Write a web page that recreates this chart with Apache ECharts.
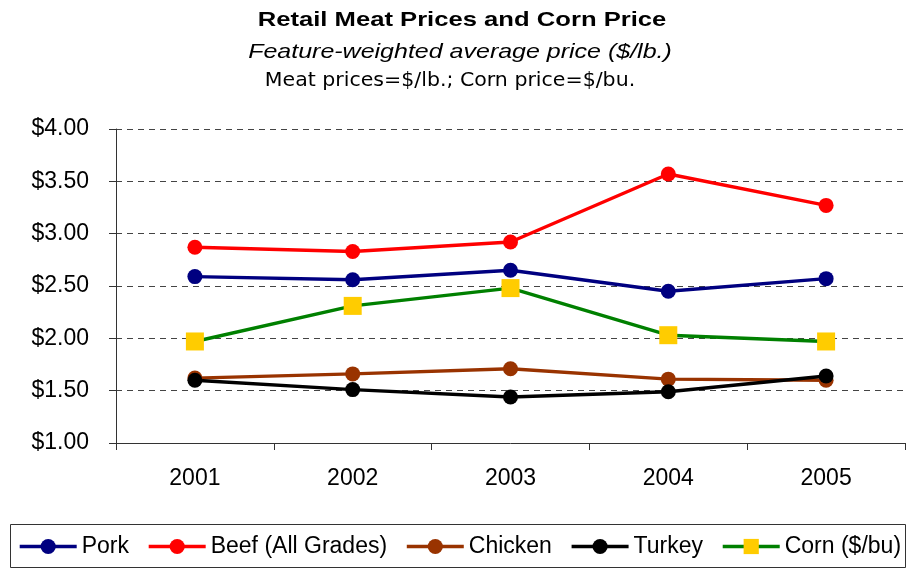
<!DOCTYPE html>
<html>
<head>
<meta charset="utf-8">
<script src="https://cdn.jsdelivr.net/npm/echarts@6/dist/echarts.min.js"></script>
<style>
html,body{margin:0;padding:0;background:#fff;}
#chart{width:910px;height:569px;}
</style>
</head>
<body>
<div id="chart"></div>
<script>
const years = ['2001', '2002', '2003', '2004', '2005'];
const pork = [2.59, 2.56, 2.65, 2.45, 2.57];
const beef = [2.87, 2.83, 2.92, 3.57, 3.27];
const chicken = [1.62, 1.66, 1.71, 1.61, 1.60];
const turkey = [1.60, 1.51, 1.44, 1.49, 1.64];
const corn = [1.97, 2.31, 2.48, 2.03, 1.97];
const seriesNames = ['Pork', 'Beef (All Grades)', 'Chicken', 'Turkey', 'Corn ($/bu)'];

const FONT = '"Liberation Sans", Arial, sans-serif';

function lineSeries(name, data, lineColor, markColor, symbol, size) {
  return {
    name: name, type: 'line', data: data,
    symbol: symbol, symbolSize: size,
    lineStyle: { color: lineColor, width: 3.4 },
    itemStyle: { color: markColor },
    emphasis: { disabled: true },
    animation: false
  };
}

const chart = echarts.init(document.getElementById('chart'), null, { renderer: 'canvas' });
chart.setOption({
  backgroundColor: '#fff',
  animation: false,
  graphic: [
    { type: 'text', x: 462, y: 20, scaleX: 1.22, style: { x: 0, y: 0, text: 'Retail Meat Prices and Corn Price', fill: '#000', font: 'bold 21px ' + FONT, textAlign: 'center', textVerticalAlign: 'middle' } },
    { type: 'text', x: 460, y: 52, scaleX: 1.19, style: { x: 0, y: 0, text: 'Feature-weighted average price ($/lb.)', fill: '#000', font: 'italic 21px ' + FONT, textAlign: 'center', textVerticalAlign: 'middle' } },
    { type: 'text', x: 450, y: 81, scaleX: 1.08, style: { x: 0, y: 0, text: 'Meat prices=$/lb.; Corn price=$/bu.', fill: '#000', font: '19px "DejaVu Sans", Verdana, sans-serif', textAlign: 'center', textVerticalAlign: 'middle' } },
    { type: 'rect', shape: { x: 10.5, y: 524.5, width: 895, height: 43 }, style: { fill: 'none', stroke: '#333', lineWidth: 1 } }
  ],
  legend: {
    data: seriesNames,
    left: 18, top: 535,
    padding: 0,
    itemWidth: 57, itemHeight: 19, itemGap: 18,
    lineStyle: { width: 3.4 },
    textStyle: { fontFamily: FONT, fontSize: 23, color: '#000' },
    selectedMode: false
  },
  grid: { left: 116, right: 5, top: 129, bottom: 126 },
  xAxis: {
    type: 'category', data: years, boundaryGap: true,
    axisLine: { lineStyle: { color: '#333', width: 1 } },
    axisTick: { show: true, length: 7, inside: false, lineStyle: { color: '#333' } },
    axisLabel: { fontFamily: FONT, fontSize: 23, color: '#000', margin: 24 }
  },
  yAxis: {
    type: 'value', min: 1, max: 4, interval: 0.5,
    axisLine: { show: true, lineStyle: { color: '#333', width: 1 } },
    axisTick: { show: true, length: 7, lineStyle: { color: '#333' } },
    axisLabel: { fontFamily: FONT, fontSize: 23, color: '#000', margin: 27, formatter: v => '$' + v.toFixed(2) },
    splitLine: { show: true, lineStyle: { color: '#444', type: [6, 5], width: 1 } }
  },
  series: [
    lineSeries('Pork', pork, '#000080', '#000080', 'circle', 15),
    lineSeries('Beef (All Grades)', beef, '#FF0000', '#FF0000', 'circle', 15),
    lineSeries('Chicken', chicken, '#993300', '#993300', 'circle', 15),
    lineSeries('Turkey', turkey, '#000000', '#000000', 'circle', 15),
    lineSeries('Corn ($/bu)', corn, '#008000', '#FFCC00', 'rect', 18)
  ]
});
</script>
</body>
</html>
